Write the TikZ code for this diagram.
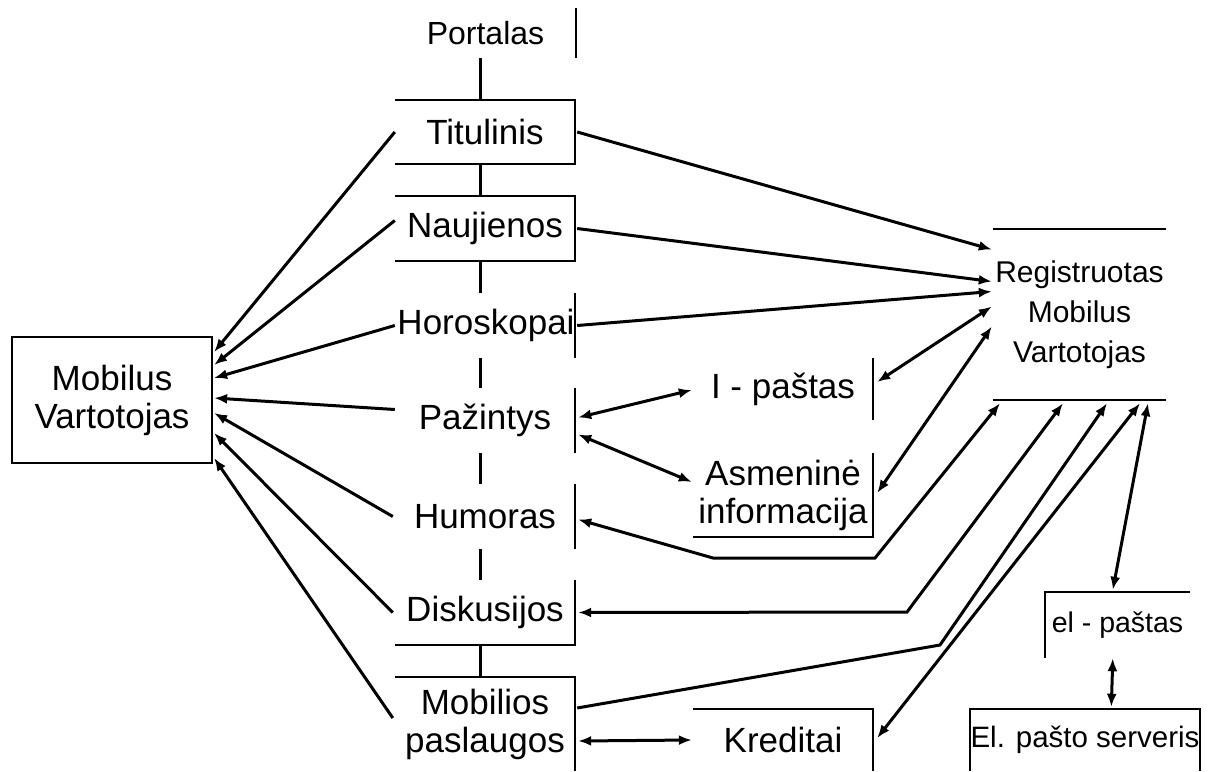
\documentclass[tikz,border=0pt]{standalone}
\usepackage{fontspec}
\setmainfont{Liberation Sans}
\usetikzlibrary{arrows.meta,calc}
\begin{document}
\begin{tikzpicture}[x=1pt,y=-1pt,
  lbl/.style={inner sep=0pt, align=center, font=\fontsize{35}{38}\selectfont},
  frame/.style={line width=2.2pt},
  link/.style={line width=3pt},
  conn/.style={line width=3pt, -{Latex[length=13pt,width=10pt]}},
  bconn/.style={line width=3pt, {Latex[length=13pt,width=10pt]}-{Latex[length=13pt,width=10pt]}},
]
\useasboundingbox (0,0) rectangle (1209,771);

% middle column
\node[lbl, font=\fontsize{32}{36}\selectfont, minimum width=181pt, minimum height=50pt] (port) at (485.5,33) {Portalas};
\node[lbl, minimum width=180pt, minimum height=64pt] (tit) at (485,132) {Titulinis};
\node[lbl, minimum width=180pt, minimum height=65pt] (nau) at (485,228.5) {Naujienos};
\node[lbl, minimum width=180pt, minimum height=65pt] (horo) at (486,325.5) {Horoskopai};
\node[lbl, minimum width=180pt, minimum height=65pt] (paz) at (485,420.5) {Pažintys};
\node[lbl, minimum width=180pt, minimum height=65pt] (hum) at (485,516.5) {Humoras};
\node[lbl, minimum width=180pt, minimum height=65pt] (dis) at (485,612.5) {Diskusijos};
\node[lbl, minimum width=180pt, minimum height=94pt] (mob) at (485,724) {Mobilios\\paslaugos};

% left
\node[lbl, draw, frame, minimum width=200pt, minimum height=126pt] (mv) at (112,400) {Mobilus\\Vartotojas};

% inner column
\node[lbl, minimum width=180pt, minimum height=62pt] (ip) at (783,389) {I - paštas};
\node[lbl, minimum width=180pt, minimum height=84pt] (asm) at (783,495) {Asmeninė\\informacija};
\node[lbl, minimum width=180pt, minimum height=62pt] (kr) at (783,740) {Kreditai};

% right
\node[lbl, font=\fontsize{30}{40}\selectfont, minimum width=173pt, minimum height=171pt] (reg) at (1079.5,314.5) {Registruotas\\Mobilus\\Vartotojas};
\node[lbl, font=\fontsize{28.5}{34}\selectfont, minimum width=145pt, minimum height=66pt] (el) at (1117.5,625) {el - paštas};
\node[lbl, font=\fontsize{29.5}{34}\selectfont, minimum width=226pt, minimum height=62pt] (srv) at (1085,740) {El. pašto serveris};

% frames
\draw[frame] (port.north east) -- (port.south east);
\draw[frame] (tit.north west) -- (tit.north east) -- (tit.south east) -- (tit.south west);
\draw[frame] (nau.north west) -- (nau.north east) -- (nau.south east) -- (nau.south west);
\draw[frame] ($(horo.north east)+(-1,0)$) -- ($(horo.south east)+(-1,0)$);
\draw[frame] (paz.north east) -- (paz.south east);
\draw[frame] (hum.north east) -- (hum.south east);
\draw[frame] (dis.north east) -- (dis.south east) -- (dis.south west);
\draw[frame] (mob.south east) -- (mob.north east) -- (mob.north west);
\draw[frame] (ip.north east) -- (ip.south east);
\draw[frame] (asm.north east) -- (asm.south east) -- (asm.south west);
\draw[frame] (kr.south east) -- (kr.north east) -- (kr.north west);
\draw[frame] (reg.north west) -- (reg.north east);
\draw[frame] (reg.south west) -- (reg.south east);
\draw[frame] (el.south west) -- (el.north west) -- (el.north east);
\draw[frame] (srv.south west) -- (srv.north west) -- (srv.north east) -- (srv.south east);

% vertical links
\draw[link] ($(port.south)+(-5.5,0)$) -- ($(tit.north)+(-5,0)$);
\draw[link] ($(tit.south)+(-5,0)$) -- ($(nau.north)+(-5,0)$);
\draw[link] ($(nau.south)+(-5,0)$) -- ($(horo.north)+(-6,0)$);
\draw[link] ($(horo.south)+(-6,0)$) -- ($(paz.north)+(-5,0)$);
\draw[link] ($(paz.south)+(-5,0)$) -- ($(hum.north)+(-5,0)$);
\draw[link] ($(hum.south)+(-5,0)$) -- ($(dis.north)+(-5,0)$);
\draw[link] ($(dis.south)+(-5,0)$) -- ($(mob.north)+(-5,0)$);

% arrows to Mobilus Vartotojas
\draw[conn] (tit.west) -- ($(mv.east)+(1,-48)$);
\draw[conn] ($(nau.west)+(0,-8)$) -- ($(mv.east)+(1,-35)$);
\draw[conn] ($(horo.west)+(-1,0)$) -- ($(mv.east)+(1,-22)$);
\draw[conn] ($(paz.west)+(0,-11)$) -- ($(mv.east)+(1,-2)$);
\draw[conn] ($(hum.west)+(-2,0)$) -- ($(mv.east)+(1,13)$);
\draw[conn] ($(dis.west)+(-2,0)$) -- ($(mv.east)+(1,33)$);
\draw[conn] ($(mob.west)+(-2,-6)$) -- ($(mv.east)+(1,58)$);

% arrows to Registruotas
\draw[conn] ($(tit.east)+(2,0)$) -- ($(reg.west)+(-1,-65)$);
\draw[conn] ($(nau.east)+(2,0)$) -- ($(reg.west)+(-1,-33)$);
\draw[conn] ($(horo.east)+(1,0)$) -- ($(reg.west)+(-1,-23)$);
\draw[bconn] ($(ip.east)+(4,-7)$) -- ($(reg.west)+(-1,-8)$);
\draw[bconn] ($(asm.east)+(4,-2)$) -- ($(reg.west)+(-1,12)$);

% Pazintys links
\draw[bconn] ($(paz.east)+(3,-3)$) -- ($(ip.west)+(-1,1)$);
\draw[bconn] ($(paz.east)+(3,14)$) -- ($(asm.west)+(-1,-13)$);

% bend points
\coordinate (h1) at (713,558);
\coordinate (h2) at (875,558);
\coordinate (d1) at (907,612);
\coordinate (m1) at (940,645);

\draw[bconn] ($(hum.east)+(3,3)$) -- (h1) -- (h2) -- ($(reg.south)+(-79.5,3)$);
\draw[bconn] ($(dis.east)+(3,0)$) -- (d1) -- ($(reg.south)+(-16.5,3)$);
\draw[conn] ($(mob.east)+(2,-16)$) -- (m1) -- ($(reg.south)+(27.5,3)$);
\draw[bconn] ($(kr.east)+(4,-2)$) -- ($(reg.south)+(60.5,3)$);
\draw[bconn] ($(reg.south)+(68.5,3)$) -- ($(el.north west)+(68,-2)$);
\draw[bconn] ($(el.south west)+(68,0)$) -- ($(srv.north west)+(141,-2)$);
\draw[bconn] ($(mob.east)+(3,17)$) -- ($(kr.west)+(-1,0)$);
\end{tikzpicture}
\end{document}
